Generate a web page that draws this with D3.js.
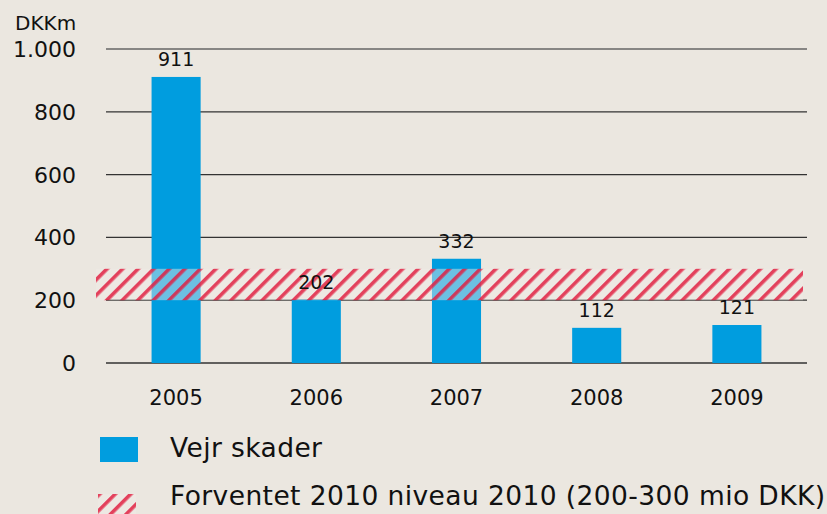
<!DOCTYPE html>
<html>
<head>
<meta charset="utf-8">
<script src="https://cdn.jsdelivr.net/npm/d3@7"></script>
<style>
  body { margin: 0; background: #ebe7e0; }
  svg { display: block; font-family: "DejaVu Sans", sans-serif; }
</style>
</head>
<body>
<div id="chart"></div>
<script>
const years = ["2005", "2006", "2007", "2008", "2009"];
const damages = [911, 202, 332, 112, 121];
const expectedRange = [200, 300];
const yTicks = [0, 200, 400, 600, 800, 1000];
const legendLabels = ["Vejr skader", "Forventet 2010 niveau 2010 (200-300 mio DKK)"];

const W = 827, H = 514;
const svg = d3.select("#chart").append("svg")
  .attr("width", W).attr("height", H);

svg.append("rect").attr("width", W).attr("height", H).attr("fill", "#ebe7e0");

const defs = svg.append("defs");
const pat = defs.append("pattern")
  .attr("id", "hatch")
  .attr("patternUnits", "userSpaceOnUse")
  .attr("width", 11).attr("height", 11)
  .attr("patternTransform", "rotate(45)");
pat.append("rect").attr("width", 11).attr("height", 11).attr("fill", "rgba(240,236,230,0.45)");
pat.append("rect").attr("x", 0).attr("width", 3.6).attr("height", 11).attr("fill", "rgba(226,28,62,0.82)");

const x = d3.scaleBand().domain(years).range([106, 807]);
const y = d3.scaleLinear().domain([0, 1000]).range([363, 49]);

// gridlines
svg.append("g").selectAll("line")
  .data(yTicks)
  .join("line")
  .attr("x1", 106).attr("x2", 807)
  .attr("y1", d => y(d)).attr("y2", d => y(d))
  .attr("stroke", d => d === 1000 ? "#666" : "#333")
  .attr("stroke-width", 1.3);

// y tick labels
svg.append("g").selectAll("text")
  .data(yTicks)
  .join("text")
  .attr("x", 76).attr("y", d => y(d) + 8)
  .attr("text-anchor", "end")
  .attr("font-size", 22)
  .attr("fill", "#111")
  .text(d => d3.format(",")(d).replace(",", "."));

svg.append("text")
  .attr("x", 15).attr("y", 30)
  .attr("font-size", 20)
  .attr("fill", "#111")
  .text("DKKm");

const bw = x.bandwidth() * 0.35;

svg.append("g").selectAll("rect")
  .data(damages)
  .join("rect")
  .attr("x", (d, i) => x(years[i]) + (x.bandwidth() - bw) / 2)
  .attr("width", bw)
  .attr("y", d => y(d))
  .attr("height", d => y(0) - y(d))
  .attr("fill", "#009ddf");

// expected band
svg.append("rect")
  .attr("x", 96).attr("width", 707)
  .attr("y", y(expectedRange[1]))
  .attr("height", y(expectedRange[0]) - y(expectedRange[1]))
  .attr("fill", "url(#hatch)");

// value labels
svg.append("g").selectAll("text")
  .data(damages)
  .join("text")
  .attr("x", (d, i) => x(years[i]) + x.bandwidth() / 2)
  .attr("y", d => y(d) - 11)
  .attr("text-anchor", "middle")
  .attr("font-size", 19)
  .attr("fill", "#111")
  .text(d => d);

// x labels
svg.append("g").selectAll("text")
  .data(years)
  .join("text")
  .attr("x", d => x(d) + x.bandwidth() / 2)
  .attr("y", 405)
  .attr("text-anchor", "middle")
  .attr("font-size", 21)
  .attr("fill", "#111")
  .text(d => d);

// legend
svg.append("rect").attr("x", 100).attr("y", 437).attr("width", 38).attr("height", 25).attr("fill", "#009ddf");
svg.append("rect").attr("x", 98).attr("y", 494).attr("width", 38).attr("height", 25).attr("fill", "url(#hatch)");
svg.append("g").selectAll("text")
  .data(legendLabels)
  .join("text")
  .attr("x", 170)
  .attr("y", (d, i) => 457 + i * 48)
  .attr("font-size", 26.5)
  .attr("letter-spacing", 0.4)
  .attr("fill", "#111")
  .text(d => d);
</script>
</body>
</html>
